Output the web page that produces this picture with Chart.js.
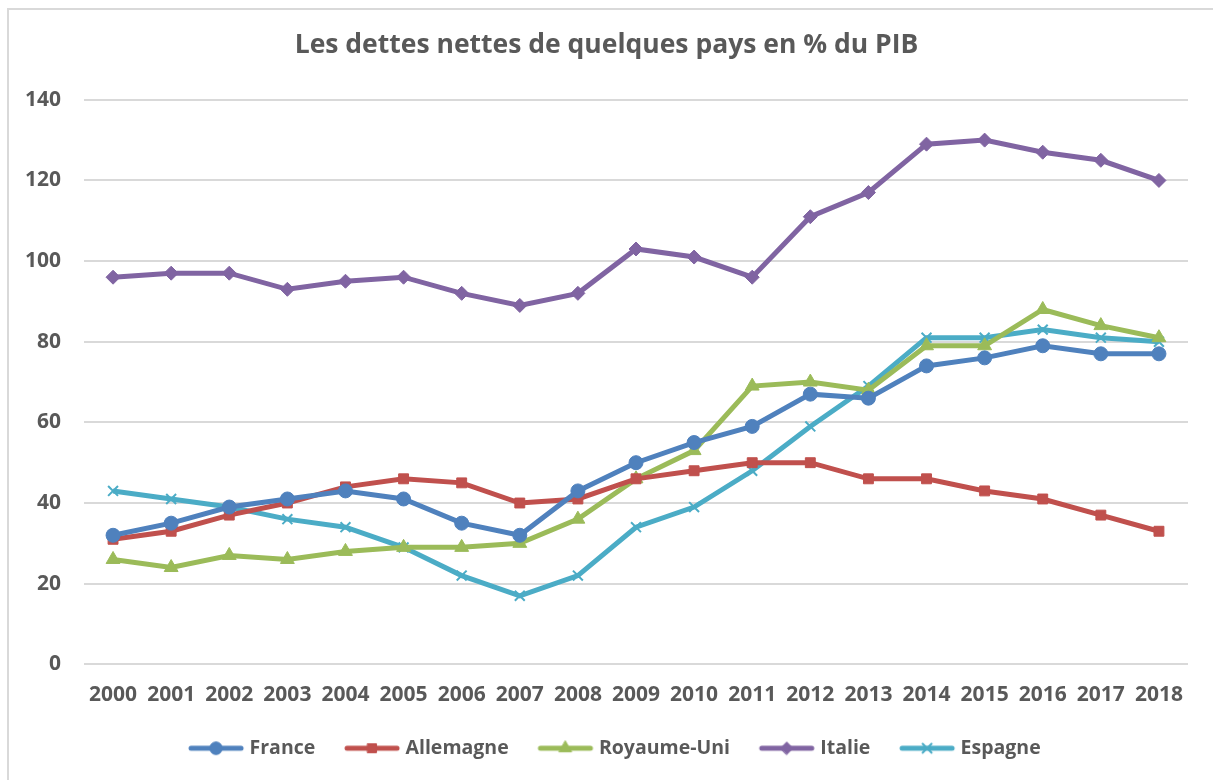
<!DOCTYPE html>
<html>
<head>
<meta charset="utf-8">
<script src="https://cdn.jsdelivr.net/npm/chart.js@4"></script>
<style>
  html, body { margin: 0; padding: 0; background: #fff; }
  #frame { position: absolute; left: 7px; top: 8px; width: 1220px; height: 800px;
           border-top: 2px solid #d9d9d9; border-left: 2px solid #d9d9d9; }
  #wrap { position: absolute; left: 0; top: 0; width: 1213px; height: 780px; }
</style>
</head>
<body>
<div id="frame"></div>
<div id="wrap"><canvas id="c" width="1213" height="780"></canvas></div>
<script>
const years = ['2000','2001','2002','2003','2004','2005','2006','2007','2008','2009','2010','2011','2012','2013','2014','2015','2016','2017','2018'];
const france     = [32, 35, 39, 41, 43, 41, 35, 32, 43, 50, 55, 59, 67, 66, 74, 76, 79, 77, 77];
const allemagne  = [31, 33, 37, 40, 44, 46, 45, 40, 41, 46, 48, 50, 50, 46, 46, 43, 41, 37, 33];
const royaumeUni = [26, 24, 27, 26, 28, 29, 29, 30, 36, 46, 53, 69, 70, 68, 79, 79, 88, 84, 81];
const italie     = [96, 97, 97, 93, 95, 96, 92, 89, 92, 103, 101, 96, 111, 117, 129, 130, 127, 125, 120];
const espagne    = [43, 41, 39, 36, 34, 29, 22, 17, 22, 34, 39, 48, 59, 69, 81, 81, 83, 81, 80];
const seriesNames = ['France', 'Allemagne', 'Royaume-Uni', 'Italie', 'Espagne'];
const yTicks = [0, 20, 40, 60, 80, 100, 120, 140];

const colors = ['#4F81BD', '#C0504D', '#9BBB59', '#8064A2', '#4BACC6'];
const styles = ['circle', 'rect', 'triangle', 'rectRot', 'crossRot'];
const radii  = [7, 7, 8, 7, 7];
const FONT = '"Open Sans", "Liberation Sans", sans-serif';
const TEXT = '#595959';

const LEG_L = 22, LEG_LINE = 56, LEG_W = LEG_L + LEG_LINE + 2, LEG_BOX = 67.5;
function legendImage(color, style, r) {
  const cv = document.createElement('canvas');
  cv.width = LEG_W; cv.height = 20;
  const g = cv.getContext('2d');
  g.strokeStyle = color; g.fillStyle = color; g.lineWidth = 5; g.lineCap = 'round';
  g.beginPath(); g.moveTo(LEG_L + 3, 10); g.lineTo(LEG_L + LEG_LINE - 3, 10); g.stroke();
  g.lineWidth = style === 'crossRot' ? 2 : 1;
  Chart.helpers.drawPoint(g, {pointStyle: style, radius: r * 0.9, borderWidth: g.lineWidth}, LEG_L + LEG_LINE / 2, 10);
  return cv;
}

const dataArr = [france, allemagne, royaumeUni, italie, espagne];
const datasets = seriesNames.map((n, i) => ({
  label: n,
  data: dataArr[i],
  borderColor: colors[i],
  backgroundColor: colors[i],
  borderWidth: 5,
  pointStyle: styles[i],
  pointRadius: radii[i],
  pointBorderWidth: styles[i] === 'crossRot' ? 2 : 1,
  pointBorderColor: colors[i],
  pointBackgroundColor: colors[i],
  tension: 0,
  fill: false
}));

Chart.defaults.font.family = FONT;

new Chart(document.getElementById('c'), {
  type: 'line',
  data: { labels: years, datasets },
  options: {
    responsive: false,
    animation: false,
    layout: { padding: { left: 25, right: 25, top: 10, bottom: 12 } },
    plugins: {
      title: {
        display: true,
        text: 'Les dettes nettes de quelques pays en % du PIB',
        color: TEXT,
        font: { family: FONT, size: 26.5, weight: 'bold' },
        padding: { top: 20, bottom: 38 }
      },
      legend: {
        position: 'bottom',
        labels: {
          color: TEXT,
          font: { family: FONT, size: 19.5, weight: 'bold' },
          usePointStyle: true,
          pointStyleWidth: LEG_BOX,
          padding: 13,
          generateLabels: (chart) => chart.data.datasets.map((ds, i) => ({
            text: ds.label,
            fillStyle: colors[i],
            strokeStyle: colors[i],
            fontColor: TEXT,
            pointStyle: legendImage(colors[i], styles[i], radii[i]),
            lineWidth: 0,
            hidden: false,
            datasetIndex: i
          }))
        }
      },
      tooltip: { enabled: false }
    },
    scales: {
      x: {
        offset: true,
        grid: { display: false, drawTicks: false },
        border: { display: false },
        ticks: { color: TEXT, font: { family: FONT, size: 21, weight: 'bold' }, padding: 18, maxRotation: 0, autoSkip: false },
        afterFit: (scale) => { scale.paddingLeft = 0; scale.paddingRight = 0; }
      },
      y: {
        min: yTicks[0],
        max: yTicks[yTicks.length - 1],
        afterBuildTicks: (axis) => { axis.ticks = yTicks.map(v => ({ value: v })); },
        afterFit: (scale) => { scale.width = 59; },
        grid: { color: '#d9d9d9', lineWidth: 2, drawTicks: false },
        border: { display: false },
        ticks: { color: TEXT, font: { family: FONT, size: 21, weight: 'bold' }, padding: 23 }
      }
    }
  }
});
</script>
</body>
</html>
